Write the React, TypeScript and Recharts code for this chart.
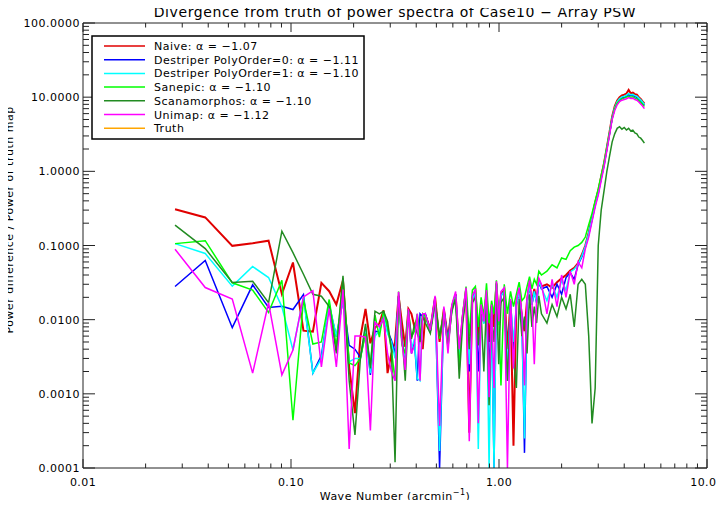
import { LineChart, Line, XAxis, YAxis } from 'recharts';

// wave number bins (arcmin^-1), dense part thinned out
const waveNumber = [
  0.0277, 0.0387, 0.0522, 0.0654, 0.078, 0.0904, 0.1022, 0.1148, 0.1274, 0.14,
  0.1526, 0.1652, 0.1778, 0.1904, 0.203, 0.2156, 0.2282, 0.2408, 0.2534, 0.266,
  0.2786, 0.2912, 0.3038, 0.3164, 0.329, 0.3416, 0.3542, 0.3668, 0.3794, 0.392,
  0.4046, 0.4172, 0.4298, 0.4424, 0.4676, 0.4928, 0.518, 0.5432, 0.5684, 0.5936,
  0.6188, 0.644, 0.6692, 0.6944, 0.7196, 0.7448, 0.77, 0.7952, 0.8204, 0.8456,
  0.8708, 0.896, 0.9212, 0.9464, 0.9716, 0.9968, 1.022, 1.06, 1.098, 1.136,
  1.174, 1.212, 1.25, 1.288, 1.326, 1.364, 1.402, 1.44, 1.478, 1.516,
  1.554, 1.6, 1.7, 1.8, 1.9, 2.0, 2.1, 2.2, 2.3, 2.4,
  2.5, 2.6, 2.7, 2.8, 2.9, 3.0, 3.1, 3.2, 3.3, 3.4,
  3.5, 3.6, 3.7, 3.8, 3.9, 4.0, 4.1, 4.2, 4.3, 4.4,
  4.5, 4.6, 4.7, 4.8, 4.9, 5.0,
];

const naive = [
  0.309, 0.239, 0.099, 0.107, 0.116, 0.0221, 0.059, 0.0071, 0.0069, 0.0314,
  0.0242, 0.016, 0.034, 0.0023, 0.00055, 0.0058, 0.014, 0.0048, 0.0078, 0.0089,
  0.0134, 0.0019, 0.0035, 0.005, 0.021, 0.009, 0.0043, 0.014, 0.012, 0.008,
  0.0104, 0.0065, 0.004, 0.0115, 0.0075, 0.02, 0.005, 0.014, 0.0055, 0.015,
  0.022, 0.0035, 0.011, 0.025, 0.0003, 0.02, 0.024, 0.006, 0.015, 0.0095,
  0.023, 0.005, 0.015, 0.008, 0.031, 0.009, 0.022, 0.025, 0.004, 0.018,
  0.0002, 0.017, 0.025, 0.011, 0.007, 0.018, 0.031, 0.017, 0.026, 0.018,
  0.034, 0.028, 0.03, 0.027, 0.032, 0.036, 0.04, 0.046, 0.05, 0.058,
  0.075, 0.1, 0.15, 0.24, 0.38, 0.55, 0.85, 1.3, 2.1, 3.4,
  5.5, 7.5, 9.0, 10.0, 10.6, 10.8, 11.2, 12.5, 11.3, 11.5,
  11.0, 10.8, 10.0, 9.5, 8.8, 8.2,
];

const destriper0 = [
  0.028, 0.0628, 0.0078, 0.0295, 0.0146, 0.0152, 0.0137, 0.0218, 0.0019, 0.0033,
  0.0157, 0.0059, 0.0183, 0.0045, 0.004, 0.0031, 0.0068, 0.0018, 0.007, 0.0068,
  0.0121, 0.007, 0.0053, 0.0035, 0.0203, 0.005, 0.0031, 0.0134, 0.0035, 0.005,
  0.0015, 0.012, 0.011, 0.012, 0.007, 0.02, 0.0001, 0.014, 0.005, 0.015,
  0.022, 0.0032, 0.011, 0.024, 0.002, 0.019, 0.023, 0.002, 0.015, 0.009,
  0.022, 0.002, 0.015, 0.0001, 0.03, 0.0085, 0.021, 0.024, 0.0015, 0.018,
  0.004, 0.016, 0.024, 0.011, 0.00016, 0.017, 0.03, 0.016, 0.024, 0.017,
  0.032, 0.026, 0.028, 0.02, 0.03, 0.022, 0.037, 0.043, 0.035, 0.055,
  0.07, 0.095, 0.14, 0.22, 0.35, 0.5, 0.8, 1.2, 2.0, 3.2,
  5.2, 7.0, 8.4, 9.3, 9.8, 10.0, 10.3, 10.8, 10.5, 10.6,
  10.2, 10.0, 9.4, 8.9, 8.3, 7.8,
];

const destriper1 = [
  0.106, 0.078, 0.0283, 0.052, 0.037, 0.0149, 0.0039, 0.0203, 0.0019, 0.003,
  0.0165, 0.0059, 0.0183, 0.0027, 0.003, 0.003, 0.008, 0.0019, 0.006, 0.007,
  0.012, 0.0065, 0.005, 0.003, 0.02, 0.0055, 0.003, 0.013, 0.004, 0.0055,
  0.0016, 0.0015, 0.0115, 0.011, 0.007, 0.019, 0.00017, 0.013, 0.0048, 0.014,
  0.021, 0.003, 0.01, 0.024, 0.0025, 0.019, 0.023, 0.00018, 0.014, 0.0088,
  0.022, 0.0001, 0.014, 0.0001, 0.03, 0.0085, 0.021, 0.024, 0.002, 0.017,
  0.005, 0.016, 0.024, 0.01, 0.00025, 0.017, 0.03, 0.016, 0.024, 0.017,
  0.033, 0.027, 0.018, 0.03, 0.02, 0.034, 0.025, 0.044, 0.048, 0.056,
  0.072, 0.098, 0.145, 0.23, 0.36, 0.52, 0.82, 1.25, 2.05, 3.3,
  5.3, 7.2, 8.7, 9.6, 10.1, 10.3, 10.6, 11.2, 10.8, 10.9,
  10.5, 10.3, 9.7, 9.2, 8.6, 8.0,
];

const sanepic = [
  0.106, 0.116, 0.0314, 0.025, 0.0125, 0.034, 0.00044, 0.0187, 0.0047, 0.005,
  0.0187, 0.0043, 0.036, 0.0026, 0.0024, 0.003, 0.0065, 0.0025, 0.0115, 0.0058,
  0.013, 0.008, 0.004, 0.0015, 0.019, 0.0045, 0.0035, 0.0135, 0.0058, 0.007,
  0.012, 0.006, 0.012, 0.011, 0.007, 0.018, 0.0055, 0.013, 0.0042, 0.014,
  0.02, 0.0022, 0.012, 0.028, 0.006, 0.025, 0.028, 0.008, 0.02, 0.011,
  0.031, 0.009, 0.018, 0.012, 0.034, 0.012, 0.0013, 0.03, 0.012, 0.024,
  0.015, 0.022, 0.032, 0.018, 0.02, 0.028, 0.038, 0.026, 0.035, 0.03,
  0.045, 0.04, 0.045, 0.055, 0.05, 0.068, 0.065, 0.085, 0.095, 0.1,
  0.11, 0.13, 0.19, 0.27, 0.4, 0.58, 0.88, 1.3, 2.1, 3.3,
  5.2, 7.0, 8.3, 9.0, 9.5, 9.7, 10.0, 10.3, 10.0, 10.1,
  9.7, 9.5, 9.0, 8.5, 8.0, 7.5,
];

const scanamorphos = [
  0.188, 0.091, 0.0317, 0.033, 0.0169, 0.156, 0.08, 0.041, 0.022, 0.0207,
  0.015, 0.0035, 0.039, 0.0015, 0.00028, 0.003, 0.0088, 0.0022, 0.013, 0.012,
  0.013, 0.0095, 0.004, 0.00012, 0.024, 0.0065, 0.0015, 0.013, 0.0055, 0.0085,
  0.0065, 0.005, 0.011, 0.009, 0.0065, 0.017, 0.006, 0.012, 0.0045, 0.013,
  0.019, 0.0016, 0.009, 0.021, 0.004, 0.017, 0.02, 0.0045, 0.012, 0.002,
  0.018, 0.0007, 0.011, 0.005, 0.024, 0.0025, 0.017, 0.02, 0.0015, 0.014,
  0.003, 0.0012, 0.019, 0.006, 0.011, 0.0035, 0.022, 0.008, 0.015, 0.009,
  0.021, 0.012, 0.009, 0.016, 0.011, 0.02, 0.014, 0.022, 0.008, 0.03,
  0.035, 0.03, 0.006, 0.0004, 0.0012, 0.1, 0.3, 0.55, 1.0, 1.6,
  2.5, 3.2, 3.8, 4.0, 3.7, 3.9, 3.6, 3.8, 3.5, 3.6,
  3.3, 3.2, 2.9, 2.8, 2.6, 2.4,
];

const unimap = [
  0.089, 0.0271, 0.0189, 0.0019, 0.0169, 0.0018, 0.0039, 0.0203, 0.0245, 0.0023,
  0.0141, 0.0023, 0.0255, 0.00018, 0.006, 0.006, 0.0058, 0.00032, 0.0092, 0.008,
  0.0104, 0.0035, 0.002, 0.0015, 0.0235, 0.005, 0.0021, 0.014, 0.0035, 0.0045,
  0.012, 0.0015, 0.012, 0.012, 0.0072, 0.021, 0.00037, 0.015, 0.0035, 0.016,
  0.024, 0.004, 0.012, 0.027, 0.00023, 0.021, 0.026, 0.0004, 0.016, 0.0095,
  0.025, 0.0009, 0.016, 0.0012, 0.033, 0.0095, 0.024, 0.027, 0.0001, 0.019,
  0.0022, 0.018, 0.027, 0.012, 0.0013, 0.019, 0.034, 0.018, 0.0025, 0.019,
  0.036, 0.03, 0.012, 0.035, 0.015, 0.04, 0.02, 0.045, 0.03, 0.06,
  0.05, 0.09, 0.13, 0.21, 0.33, 0.48, 0.75, 1.15, 1.9, 3.1,
  5.0, 6.6, 7.9, 8.7, 9.1, 9.3, 9.5, 9.9, 9.6, 9.7,
  9.3, 9.1, 8.6, 8.1, 7.6, 7.0,
];

const xTicks = [
  0.01, 0.02, 0.03, 0.04, 0.05, 0.06, 0.07, 0.08, 0.09,
  0.1, 0.2, 0.3, 0.4, 0.5, 0.6, 0.7, 0.8, 0.9,
  1, 2, 3, 4, 5, 6, 7, 8, 9, 10,
];

const yTicks = [
  0.0001, 0.0002, 0.0003, 0.0004, 0.0005, 0.0006, 0.0007, 0.0008, 0.0009,
  0.001, 0.002, 0.003, 0.004, 0.005, 0.006, 0.007, 0.008, 0.009,
  0.01, 0.02, 0.03, 0.04, 0.05, 0.06, 0.07, 0.08, 0.09,
  0.1, 0.2, 0.3, 0.4, 0.5, 0.6, 0.7, 0.8, 0.9,
  1, 2, 3, 4, 5, 6, 7, 8, 9,
  10, 20, 30, 40, 50, 60, 70, 80, 90, 100,
];

const series = [
  { key: 'naive', name: 'Naive: α = −1.07', color: '#e00000', width: 2 },
  { key: 'destriper0', name: 'Destriper PolyOrder=0: α = −1.11', color: '#0000ff', width: 1.5 },
  { key: 'destriper1', name: 'Destriper PolyOrder=1: α = −1.10', color: '#00ffff', width: 1.5 },
  { key: 'sanepic', name: 'Sanepic: α = −1.10', color: '#00ff00', width: 1.5 },
  { key: 'scanamorphos', name: 'Scanamorphos: α = −1.10', color: '#228b22', width: 1.5 },
  { key: 'unimap', name: 'Unimap: α = −1.12', color: '#ff00ff', width: 1.5 },
];
const legendItems = [...series, { key: 'truth', name: 'Truth', color: '#ffa500', width: 1.5 }];

const data = waveNumber.map((x, i) => ({
  x,
  naive: naive[i],
  destriper0: destriper0[i],
  destriper1: destriper1[i],
  sanepic: sanepic[i],
  scanamorphos: scanamorphos[i],
  unimap: unimap[i],
}));

const FONT = '"DejaVu Sans", sans-serif';
const AXIS = '#222';

const isMajor = (v: number) => Math.abs(Math.log10(v) - Math.round(Math.log10(v))) < 1e-6;

// IDL style: ticks point into the plot, labels only on decades
const BottomTick = ({ x, y, payload }: any) => {
  const major = isMajor(payload.value);
  return (
    <g>
      <line x1={x} x2={x} y1={y} y2={y - (major ? 9 : 4.5)} stroke={AXIS} />
      {major && (
        <text x={x} y={y + 18} textAnchor="middle" fontSize={11} letterSpacing={0.4} fontFamily={FONT} fill="#000">
          {payload.value.toFixed(2)}
        </text>
      )}
    </g>
  );
};

const TopTick = ({ x, y, payload }: any) => {
  const major = isMajor(payload.value);
  return <line x1={x} x2={x} y1={y} y2={y + (major ? 9 : 4.5)} stroke={AXIS} />;
};

const LeftTick = ({ x, y, payload }: any) => {
  const major = isMajor(payload.value);
  return (
    <g>
      <line x1={x} x2={x + (major ? 12 : 6)} y1={y} y2={y} stroke={AXIS} />
      {major && (
        <text x={x - 3} y={y + 4} textAnchor="end" fontSize={11} letterSpacing={0.5} fontFamily={FONT} fill="#000">
          {payload.value.toFixed(4)}
        </text>
      )}
    </g>
  );
};

const RightTick = ({ x, y, payload }: any) => {
  const major = isMajor(payload.value);
  return <line x1={x} x2={x - (major ? 12 : 6)} y1={y} y2={y} stroke={AXIS} />;
};

export default function App() {
  return (
    <div style={{ position: 'relative', width: 724, height: 508, margin: -8, overflow: 'hidden', background: '#fff' }}>
      <LineChart width={724} height={508} data={data} margin={{ top: 0, right: 0, bottom: 0, left: 0 }}>
        <XAxis
          dataKey="x"
          type="number"
          scale="log"
          domain={[0.01, 10]}
          allowDataOverflow
          ticks={xTicks}
          interval={0}
          tick={BottomTick}
          tickLine={false}
          tickSize={0}
          tickMargin={0}
          height={40}
          axisLine={{ stroke: AXIS }}
        />
        <XAxis
          xAxisId="top"
          orientation="top"
          dataKey="x"
          type="number"
          scale="log"
          domain={[0.01, 10]}
          allowDataOverflow
          ticks={xTicks}
          interval={0}
          tick={TopTick}
          tickLine={false}
          tickSize={0}
          tickMargin={0}
          height={23}
          axisLine={{ stroke: AXIS }}
        />
        <YAxis
          type="number"
          scale="log"
          domain={[0.0001, 100]}
          allowDataOverflow
          ticks={yTicks}
          interval={0}
          tick={LeftTick}
          tickLine={false}
          tickSize={0}
          tickMargin={0}
          width={83}
          axisLine={{ stroke: AXIS }}
        />
        <YAxis
          yAxisId="right"
          orientation="right"
          type="number"
          scale="log"
          domain={[0.0001, 100]}
          allowDataOverflow
          ticks={yTicks}
          interval={0}
          tick={RightTick}
          tickLine={false}
          tickSize={0}
          tickMargin={0}
          width={17}
          axisLine={{ stroke: AXIS }}
        />
        {series.map((s) => (
          <Line
            key={s.key}
            dataKey={s.key}
            type="linear"
            stroke={s.color}
            strokeWidth={s.width}
            dot={false}
            isAnimationActive={false}
          />
        ))}
      </LineChart>

      <svg
        width={724}
        height={508}
        style={{ position: 'absolute', left: 0, top: 0, pointerEvents: 'none' }}
        fontFamily={FONT}
      >
        <text x={395} y={17} textAnchor="middle" fontSize={14} letterSpacing={0.6} fill="#000">
          Divergence from truth of power spectra of Case10 − Array PSW
        </text>
        <text x={395} y={500} textAnchor="middle" fontSize={11} letterSpacing={0.5} fill="#000">
          Wave Number (arcmin
          <tspan fontSize={8} dy={-5}>−1</tspan>
          <tspan dy={5}>)</tspan>
        </text>
        <text
          transform="translate(13, 220) rotate(-90)"
          textAnchor="middle"
          fontSize={11}
          letterSpacing={0.5}
          fill="#000"
        >
          Power difference / Power of truth map
        </text>

        <rect x={92} y={36} width={272} height={103} fill="#fff" stroke="#000" strokeWidth={1.5} />
        {legendItems.map((s, i) => {
          const cy = 46 + i * 13.7;
          return (
            <g key={s.key}>
              <line x1={104} x2={145} y1={cy} y2={cy} stroke={s.color} strokeWidth={1.5} />
              <text x={154} y={cy + 4} fontSize={11} letterSpacing={0.5} fill="#000">
                {s.name}
              </text>
            </g>
          );
        })}
      </svg>
    </div>
  );
}
